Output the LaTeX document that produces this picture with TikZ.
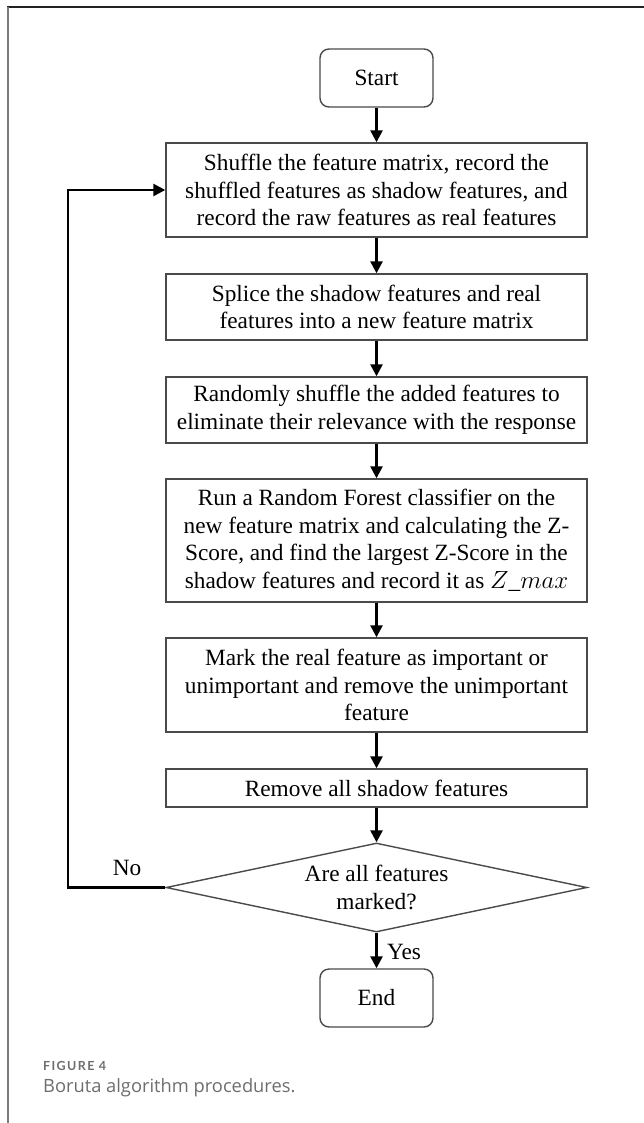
\documentclass[tikz,border=0pt]{standalone}
\usepackage{fontspec}
\setmainfont{Liberation Serif}
\newfontfamily\capfont{Open Sans}
\newfontfamily\figfont{Lato}[LetterSpace=11]
\usetikzlibrary{shapes.geometric,arrows.meta}
\definecolor{boxgray}{HTML}{4A4A4A}
\definecolor{capgray}{HTML}{6E6E6E}
\definecolor{framedark}{HTML}{222222}
\definecolor{framegray}{HTML}{7A7A7A}
\newcommand{\mainsz}{\fontsize{23.3}{27.5}\selectfont}
\newcommand{\figsz}{\fontsize{12.5}{15}\selectfont}
\newcommand{\capsz}{\fontsize{18.3}{21}\selectfont}
\tikzset{
  procbox/.style={draw=boxgray, line width=1.4pt, minimum width=421pt, inner sep=0pt, align=center, font=\mainsz},
  termbox/.style={draw=boxgray, line width=1.4pt, rounded corners=9pt, minimum width=113pt, minimum height=58pt, inner sep=0pt, font=\mainsz},
  decbox/.style={draw=boxgray, line width=1.4pt, diamond, aspect=4.7, inner sep=0pt, minimum width=421pt, minimum height=89pt, align=center, font=\mainsz},
  flow/.style={line width=2.5pt, -{Triangle[length=12pt,width=12pt]}},
  lbl/.style={font=\mainsz, inner sep=0pt},
  capt/.style={anchor=west, inner sep=0pt, text=capgray},
}
\begin{document}
\begin{tikzpicture}[x=1pt,y=-1pt]
\useasboundingbox (0,0) rectangle (644,1123);
\fill[white] (0,0) rectangle (644,1123);
% frame
\draw[line width=2pt, framedark] (7,7) -- (644,7);
\draw[line width=1.2pt, framegray] (8,7) -- (8,1123);
% nodes
\node[termbox] (start) at (376.5,78) {Start};
\node[procbox, minimum height=94pt] (b1) at (376.5,190) {Shuffle the feature matrix, record the\\shuffled features as shadow features, and\\record the raw features as real features};
\node[procbox, minimum height=66pt] (b2) at (376.5,307) {Splice the shadow features and real\\features into a new feature matrix};
\node[procbox, minimum height=66pt] (b3) at (376.5,410) {Randomly shuffle the added features to\\eliminate their relevance with the response};
\node[procbox, minimum height=123pt] (b4) at (376.5,540.5) {Run a Random Forest classifier on the\\new feature matrix and calculating the Z-\\Score, and find the largest Z-Score in the\\shadow features and record it as $Z\_max$};
\node[procbox, minimum height=94pt] (b5) at (376.5,685) {Mark the real feature as important or\\unimportant and remove the unimportant\\feature};
\node[procbox, minimum height=38pt] (b6) at (376.5,788) {Remove all shadow features};
\node[decbox] (dec) at (376.5,887.5) {Are all features\\marked?};
\node[termbox] (end) at (376.5,998) {End};
% labels
\node[lbl] (no) at (127,868) {No};
\node[lbl] (yes) at (404,952) {Yes};
% connectors
\draw[flow] (start.south) -- (b1.north);
\draw[flow] (b1.south) -- (b2.north);
\draw[flow] (b2.south) -- (b3.north);
\draw[flow] (b3.south) -- (b4.north);
\draw[flow] (b4.south) -- (b5.north);
\draw[flow] (b5.south) -- (b6.north);
\draw[flow] (b6.south) -- (dec.north);
\draw[flow] (dec.south) -- (end.north);
\coordinate (lp) at (68,190);
\draw[flow] (dec.west) -| (lp) -- (b1.west);
% caption
\node[capt, font={\figfont\figsz\bfseries}] (fig) at (43,1066) {FIGURE 4};
\node[capt, font={\capfont\capsz}] (cap) at (43,1088) {Boruta algorithm procedures.};
\end{tikzpicture}
\end{document}
